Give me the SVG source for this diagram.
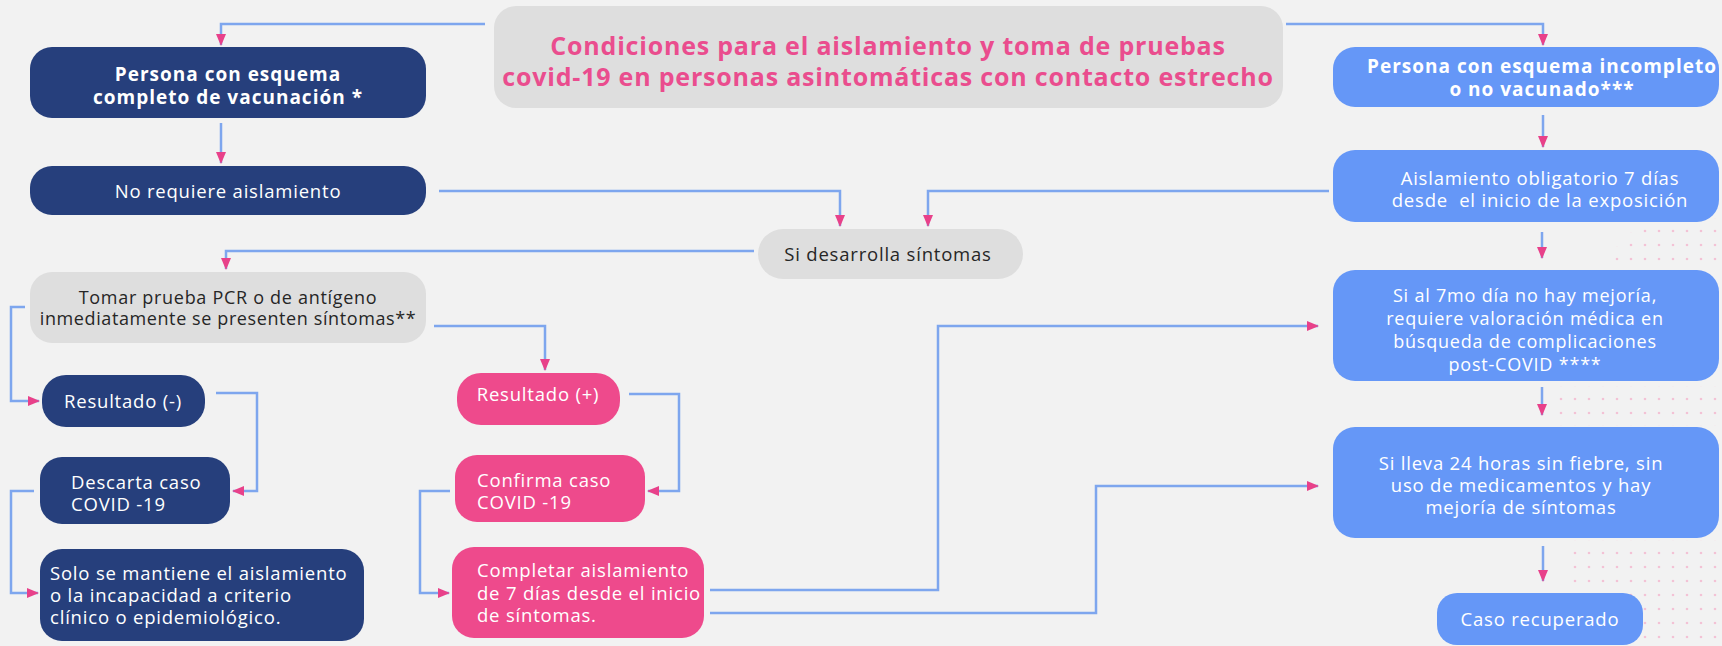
<svg xmlns="http://www.w3.org/2000/svg" width="1722" height="646" viewBox="0 0 1722 646">
<style>
.t{font-family:"Open Sans","Liberation Sans",sans-serif;font-size:18.5px;letter-spacing:0.8px;white-space:pre}
.w{fill:#ffffff}
.d{fill:#262626}
.b{font-weight:700;font-size:19px;letter-spacing:1px}
.c{text-anchor:middle}
.navy{fill:#263f7c}
.pink{fill:#ee4a8c}
.blue{fill:#6597f7}
.gray{fill:#dedede}
.ln{fill:none;stroke:#7ea6ee;stroke-width:2.5;marker-end:url(#ah)}
</style>
<defs>
<marker id="ah" markerUnits="userSpaceOnUse" markerWidth="12" markerHeight="10" refX="11" refY="5" orient="auto" viewBox="0 0 12 10">
<path d="M0,0 L12,5 L0,10 z" fill="#e8418a"/>
</marker>
<pattern id="dots" width="14" height="14" patternUnits="userSpaceOnUse">
<circle cx="7" cy="7" r="1.3" fill="#f3c2d5"/>
</pattern>
</defs>
<rect width="1722" height="646" fill="#f2f2f2"/>
<g id="dots-bg">
<rect x="1640" y="218" width="82" height="14" fill="url(#dots)"/>
<rect x="1626" y="232" width="96" height="14" fill="url(#dots)"/>
<rect x="1612" y="246" width="110" height="24" fill="url(#dots)"/>
<rect x="1556" y="386" width="166" height="40" fill="url(#dots)"/>
<rect x="1570" y="540" width="152" height="106" fill="url(#dots)"/>
</g>
<g id="connectors">
<path class="ln" d="M485,24 H221 V45"/>
<path class="ln" d="M1286,24 H1543 V45"/>
<path class="ln" d="M221,123 V163"/>
<path class="ln" d="M1543,115 V147"/>
<path class="ln" d="M439,191 H840 V226"/>
<path class="ln" d="M1329,191 H928 V226"/>
<path class="ln" d="M754,251 H226 V269"/>
<path class="ln" d="M25,307 H11 V401 H39"/>
<path class="ln" d="M434,326 H545 V370"/>
<path class="ln" d="M216,393 H257 V491 H233"/>
<path class="ln" d="M629,394 H679 V491 H648"/>
<path class="ln" d="M34,491 H11 V593 H38"/>
<path class="ln" d="M450,491 H420 V593 H449"/>
<path class="ln" d="M710,590 H938 V326 H1318"/>
<path class="ln" d="M710,613 H1096 V486 H1318"/>
<path class="ln" d="M1542,232 V258"/>
<path class="ln" d="M1542,387 V415"/>
<path class="ln" d="M1543,546 V581"/>
</g>
<g id="title">
<rect class="gray" x="494" y="6" width="789" height="102" rx="22"/>
<text class="t c" x="888" y="55" style="font-size:25px;font-weight:700;letter-spacing:0.8px;fill:#ea4d8e">Condiciones para el aislamiento y toma de pruebas</text>
<text class="t c" x="888" y="86" style="font-size:25px;font-weight:700;letter-spacing:0.8px;fill:#ea4d8e">covid-19 en personas asintomáticas con contacto estrecho</text>
</g>
<g id="node-completo">
<rect class="navy" x="30" y="47" width="396" height="71" rx="22"/>
<text class="t w b c" x="228" y="81">Persona con esquema</text>
<text class="t w b c" x="228" y="104">completo de vacunación *</text>
</g>
<g id="node-no-requiere">
<rect class="navy" x="30" y="166" width="396" height="49" rx="22"/>
<text class="t w c" x="228" y="198">No requiere aislamiento</text>
</g>
<g id="node-incompleto">
<rect class="blue" x="1333" y="47" width="386" height="60" rx="22"/>
<text class="t w b c" x="1542" y="73">Persona con esquema incompleto</text>
<text class="t w b c" x="1542" y="96">o no vacunado***</text>
</g>
<g id="node-aislamiento-7">
<rect class="blue" x="1333" y="150" width="386" height="72" rx="22"/>
<text class="t w c" x="1540" y="185">Aislamiento obligatorio 7 días</text>
<text class="t w c" x="1540" y="207">desde  el inicio de la exposición</text>
</g>
<g id="node-si-desarrolla">
<rect class="gray" x="758" y="229" width="265" height="50" rx="25"/>
<text class="t d c" x="888" y="261">Si desarrolla síntomas</text>
</g>
<g id="node-tomar-prueba">
<rect class="gray" x="30" y="272" width="396" height="71" rx="22"/>
<text class="t d c" x="228" y="304" style="font-size:18px;letter-spacing:0.7px">Tomar prueba PCR o de antígeno</text>
<text class="t d c" x="228" y="325" style="font-size:18px;letter-spacing:0.6px">inmediatamente se presenten síntomas**</text>
</g>
<g id="node-resultado-neg">
<rect class="navy" x="42" y="375" width="163" height="52" rx="24"/>
<text class="t w c" x="123" y="408">Resultado (-)</text>
</g>
<g id="node-resultado-pos">
<rect class="pink" x="457" y="373" width="163" height="52" rx="24"/>
<text class="t w c" x="538" y="401">Resultado (+)</text>
</g>
<g id="node-descarta">
<rect class="navy" x="40" y="457" width="190" height="67" rx="22"/>
<text class="t w" x="71" y="489">Descarta caso</text>
<text class="t w" x="71" y="511">COVID -19</text>
</g>
<g id="node-confirma">
<rect class="pink" x="455" y="455" width="190" height="67" rx="22"/>
<text class="t w" x="477" y="487">Confirma caso</text>
<text class="t w" x="477" y="509">COVID -19</text>
</g>
<g id="node-solo">
<rect class="navy" x="40" y="549" width="324" height="92" rx="22"/>
<text class="t w" x="50" y="580">Solo se mantiene el aislamiento</text>
<text class="t w" x="50" y="602">o la incapacidad a criterio</text>
<text class="t w" x="50" y="624">clínico o epidemiológico.</text>
</g>
<g id="node-completar">
<rect class="pink" x="452" y="547" width="252" height="91" rx="22"/>
<text class="t w" x="477" y="577">Completar aislamiento</text>
<text class="t w" x="477" y="600">de 7 días desde el inicio</text>
<text class="t w" x="477" y="622">de síntomas.</text>
</g>
<g id="node-7mo-dia">
<rect class="blue" x="1333" y="270" width="386" height="111" rx="22"/>
<text class="t w c" x="1525" y="302" style="font-size:18px">Si al 7mo día no hay mejoría,</text>
<text class="t w c" x="1525" y="325" style="font-size:18px">requiere valoración médica en</text>
<text class="t w c" x="1525" y="348" style="font-size:18px">búsqueda de complicaciones</text>
<text class="t w c" x="1525" y="371" style="font-size:18px">post-COVID ****</text>
</g>
<g id="node-24-horas">
<rect class="blue" x="1333" y="427" width="386" height="111" rx="22"/>
<text class="t w c" x="1521" y="470">Si lleva 24 horas sin fiebre, sin</text>
<text class="t w c" x="1521" y="492">uso de medicamentos y hay</text>
<text class="t w c" x="1521" y="514">mejoría de síntomas</text>
</g>
<g id="node-recuperado">
<rect class="blue" x="1437" y="593" width="206" height="52" rx="20"/>
<text class="t w c" x="1540" y="626">Caso recuperado</text>
</g>
</svg>
